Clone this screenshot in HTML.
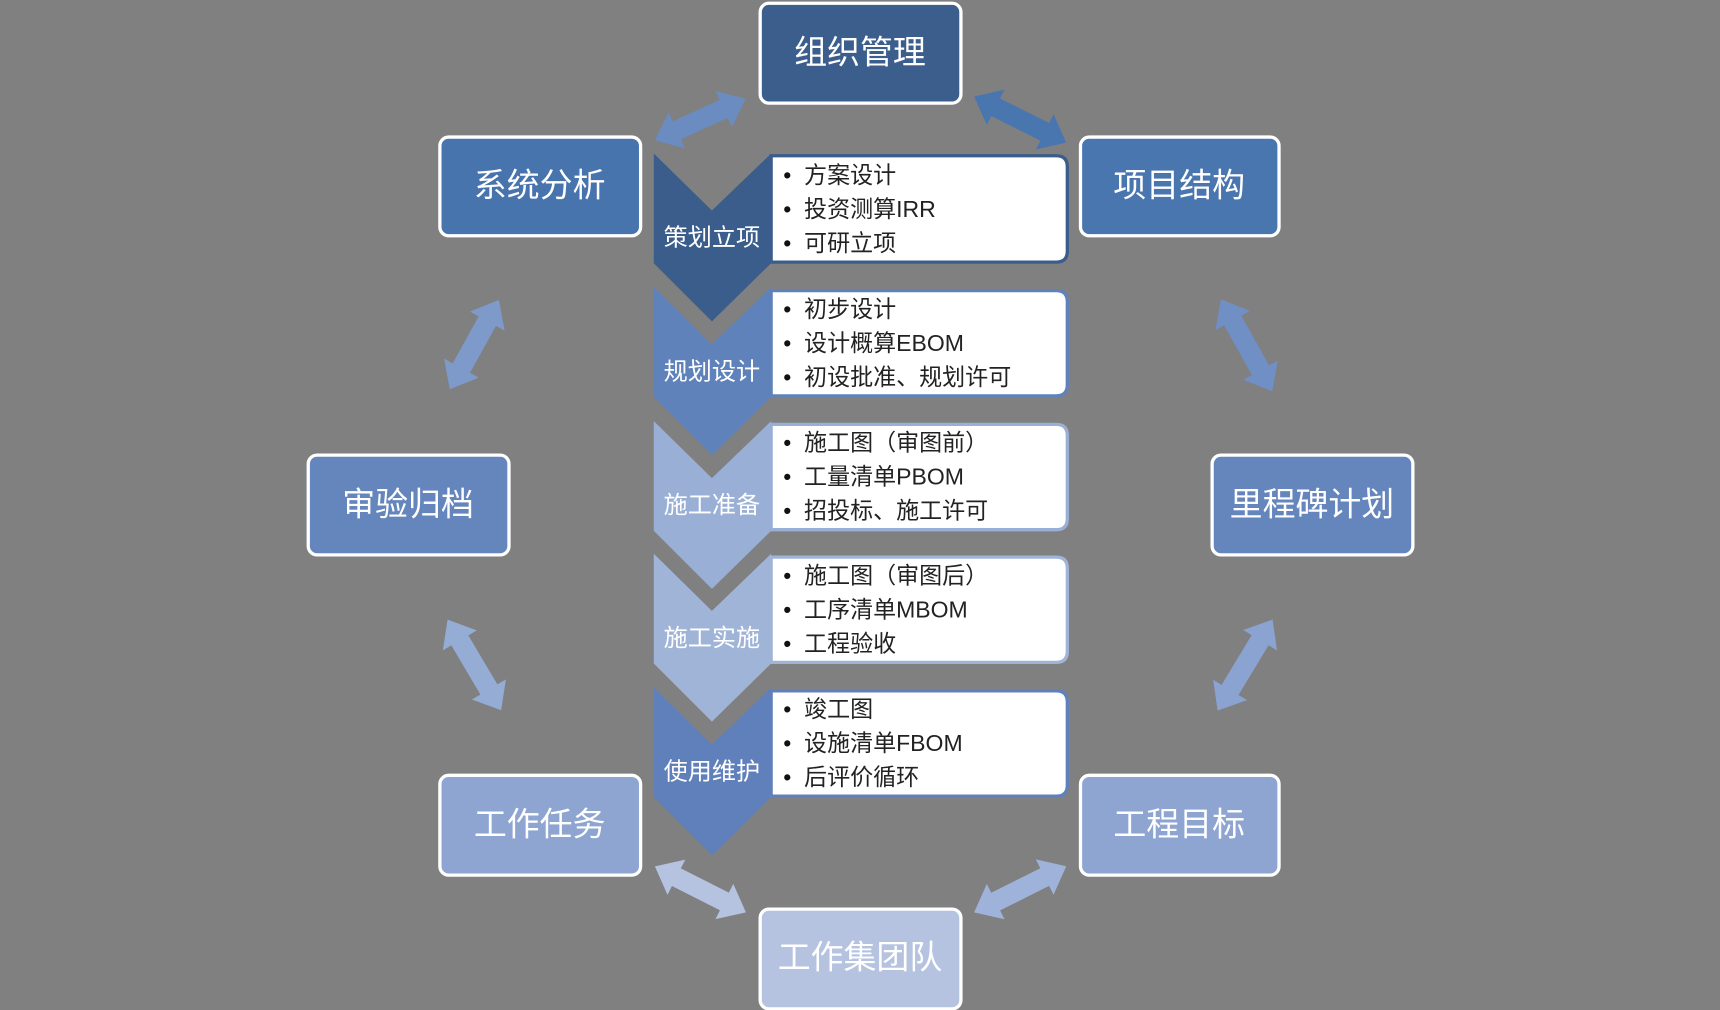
<!DOCTYPE html>
<html><head><meta charset="utf-8"><style>
html,body{margin:0;padding:0;background:#808080;}
svg{display:block;}
text{font-family:"Liberation Sans","Noto Sans CJK SC",sans-serif;}
</style></head><body>
<svg width="1720" height="1010" viewBox="0 0 1568 921" preserveAspectRatio="none" xmlns="http://www.w3.org/2000/svg">
<rect width="1568" height="921" fill="#808080"/>
<g>
<polygon transform="translate(597,128) rotate(-24.6)" fill="#6a8cc0" points="0,0 22,-18 22,-9 69,-9 69,-18 91,0 69,18 69,9 22,9 22,18"/>
<polygon transform="translate(888,88) rotate(26.6)" fill="#4a76b0" points="0,0 22,-18 22,-9 72,-9 72,-18 94,0 72,18 72,9 22,9 22,18"/>
<polygon transform="translate(410,355) rotate(-61.2)" fill="#7d9acb" points="0,0 22,-18 22,-9 71,-9 71,-18 93,0 71,18 71,9 22,9 22,18"/>
<polygon transform="translate(1113,273) rotate(60.8)" fill="#6f8fc5" points="0,0 22,-18 22,-9 74,-9 74,-18 96,0 74,18 74,9 22,9 22,18"/>
<polygon transform="translate(408,565) rotate(59.4)" fill="#95acd4" points="0,0 22,-18 22,-9 74,-9 74,-18 96,0 74,18 74,9 22,9 22,18"/>
<polygon transform="translate(1110,648) rotate(-58.9)" fill="#8ba3d0" points="0,0 22,-18 22,-9 75,-9 75,-18 97,0 75,18 75,9 22,9 22,18"/>
<polygon transform="translate(597,790) rotate(26.8)" fill="#b5c3e0" points="0,0 22,-18 22,-9 71,-9 71,-18 93,0 71,18 71,9 22,9 22,18"/>
<polygon transform="translate(888,832) rotate(-26.6)" fill="#9fb3da" points="0,0 22,-18 22,-9 72,-9 72,-18 94,0 72,18 72,9 22,9 22,18"/>
</g>
<g stroke="#fff" stroke-width="3">
<rect x="693" y="3" width="183" height="91" rx="8" fill="#3b5e8c"/>
<rect x="401" y="125" width="183" height="90" rx="8" fill="#4874ae"/>
<rect x="985" y="125" width="181" height="90" rx="8" fill="#4a76b0"/>
<rect x="281" y="415" width="183" height="91" rx="8" fill="#6585bd"/>
<rect x="1105" y="415" width="183" height="91" rx="8" fill="#6585bd"/>
<rect x="401" y="707" width="183" height="91" rx="8" fill="#8ea5d2"/>
<rect x="985" y="707" width="181" height="91" rx="8" fill="#8ea5d2"/>
<rect x="693" y="829" width="183" height="91" rx="8" fill="#b5c3e0"/>
</g>
<g fill="#fff" font-size="30" text-anchor="middle">
<text x="784" y="58">组织管理</text>
<text x="492" y="179">系统分析</text>
<text x="1075" y="179">项目结构</text>
<text x="372" y="470">审验归档</text>
<text x="1196" y="470">里程碑计划</text>
<text x="492" y="762">工作任务</text>
<text x="1075" y="762">工程目标</text>
<text x="784" y="883">工作集团队</text>
</g>
<g font-size="21">
<polygon points="596,140 649,192 703,140 703,240 649,293 596,240" fill="#3a5d8c"/>
<path d="M703,142 H963 Q973,142 973,152 V229 Q973,239 963,239 H703 Z" fill="#fff" stroke="#3a5d8c" stroke-width="3"/>
<text x="649" y="224" fill="#fff" text-anchor="middle" font-size="22">策划立项</text>
<text x="714" y="167" fill="#111">•</text><text x="733" y="167" fill="#222">方案设计</text>
<text x="714" y="198" fill="#111">•</text><text x="733" y="198" fill="#222">投资测算IRR</text>
<text x="714" y="229" fill="#111">•</text><text x="733" y="229" fill="#222">可研立项</text>
<polygon points="596,262 649,314 703,262 703,362 649,415 596,362" fill="#5f82ba"/>
<path d="M703,265 H963 Q973,265 973,275 V351 Q973,361 963,361 H703 Z" fill="#fff" stroke="#5f82ba" stroke-width="3"/>
<text x="649" y="346" fill="#fff" text-anchor="middle" font-size="22">规划设计</text>
<text x="714" y="289" fill="#111">•</text><text x="733" y="289" fill="#222">初步设计</text>
<text x="714" y="320" fill="#111">•</text><text x="733" y="320" fill="#222">设计概算EBOM</text>
<text x="714" y="351" fill="#111">•</text><text x="733" y="351" fill="#222">初设批准、规划许可</text>
<polygon points="596,384 649,436 703,384 703,484 649,537 596,484" fill="#9aafd6"/>
<path d="M703,387 H963 Q973,387 973,397 V473 Q973,483 963,483 H703 Z" fill="#fff" stroke="#9aafd6" stroke-width="3"/>
<text x="649" y="468" fill="#fff" text-anchor="middle" font-size="22">施工准备</text>
<text x="714" y="411" fill="#111">•</text><text x="733" y="411" fill="#222">施工图（审图前）</text>
<text x="714" y="442" fill="#111">•</text><text x="733" y="442" fill="#222">工量清单PBOM</text>
<text x="714" y="473" fill="#111">•</text><text x="733" y="473" fill="#222">招投标、施工许可</text>
<polygon points="596,505 649,557 703,505 703,605 649,658 596,605" fill="#a0b4d8"/>
<path d="M703,508 H963 Q973,508 973,518 V594 Q973,604 963,604 H703 Z" fill="#fff" stroke="#a0b4d8" stroke-width="3"/>
<text x="649" y="589" fill="#fff" text-anchor="middle" font-size="22">施工实施</text>
<text x="714" y="532" fill="#111">•</text><text x="733" y="532" fill="#222">施工图（审图后）</text>
<text x="714" y="563" fill="#111">•</text><text x="733" y="563" fill="#222">工序清单MBOM</text>
<text x="714" y="594" fill="#111">•</text><text x="733" y="594" fill="#222">工程验收</text>
<polygon points="596,627 649,679 703,627 703,727 649,780 596,727" fill="#6080bb"/>
<path d="M703,630 H963 Q973,630 973,640 V716 Q973,726 963,726 H703 Z" fill="#fff" stroke="#6080bb" stroke-width="3"/>
<text x="649" y="711" fill="#fff" text-anchor="middle" font-size="22">使用维护</text>
<text x="714" y="654" fill="#111">•</text><text x="733" y="654" fill="#222">竣工图</text>
<text x="714" y="685" fill="#111">•</text><text x="733" y="685" fill="#222">设施清单FBOM</text>
<text x="714" y="716" fill="#111">•</text><text x="733" y="716" fill="#222">后评价循环</text>
</g>
</svg>
</body></html>
